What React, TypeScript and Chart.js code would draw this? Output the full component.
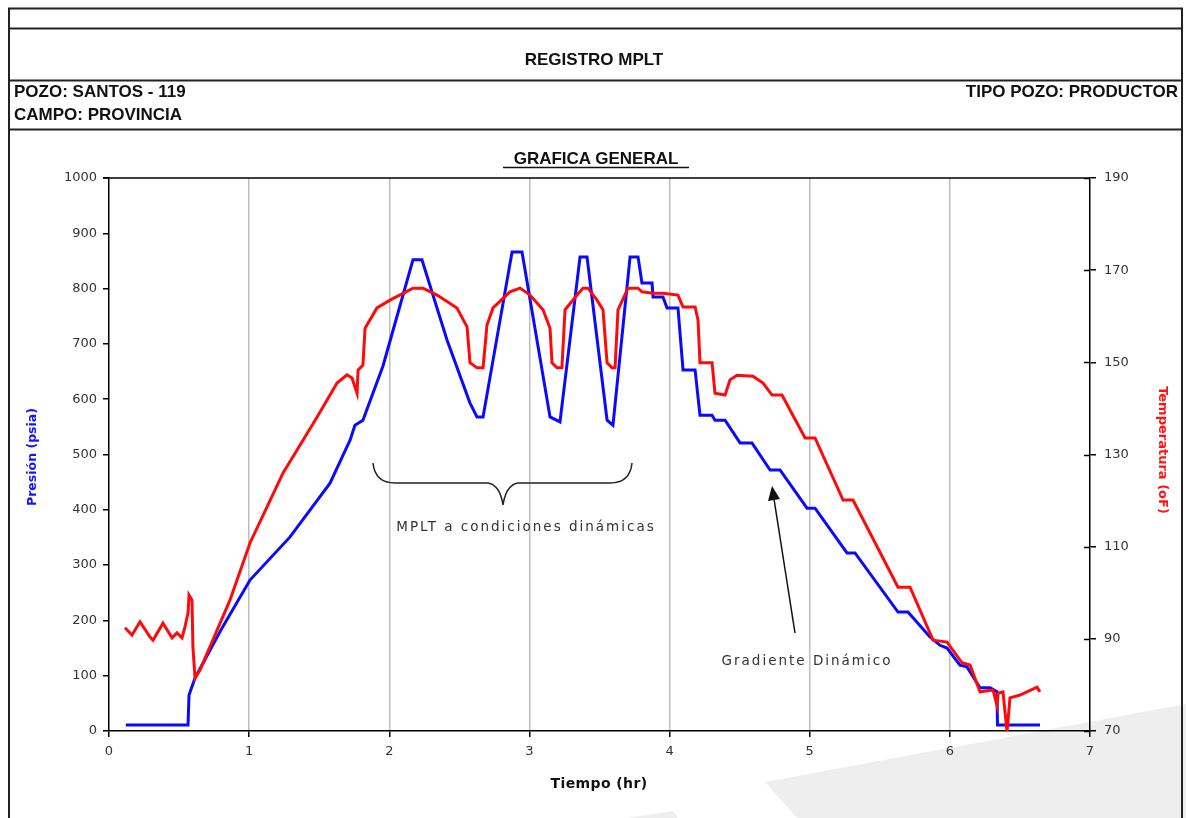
import React, { useEffect, useRef } from "react";
import { Chart, registerables } from "chart.js";

Chart.register(...registerables);

const W = 1186;
const H = 818;

// Pressure series (psia) vs time (hr)
const presionTiempo = [
  0.12, 0.564, 0.571, 0.614, 0.806, 1.006, 1.292, 1.577, 1.72, 1.755, 1.812, 1.955,
  2.169, 2.233, 2.412, 2.576, 2.626, 2.669, 2.876, 2.947, 3.147, 3.218, 3.361, 3.411,
  3.554, 3.596, 3.718, 3.775, 3.803, 3.875, 3.882, 3.953, 3.982, 4.06, 4.096, 4.182,
  4.217, 4.303, 4.324, 4.396, 4.503, 4.588, 4.717, 4.788, 4.981, 5.038, 5.266, 5.323,
  5.63, 5.701, 5.858, 5.93, 5.98, 6.072, 6.122, 6.215, 6.287, 6.336, 6.34, 6.643,
];
const presion = [
  11, 11, 65, 96, 186, 273, 351, 448, 526, 553, 562, 660,
  852, 852, 707, 593, 568, 568, 866, 866, 568, 559, 857, 857,
  562, 553, 857, 857, 810, 810, 785, 785, 765, 765, 653, 653,
  571, 571, 562, 562, 521, 521, 472, 472, 403, 403, 322, 322,
  215, 215, 170, 155, 150, 119, 116, 78, 78, 71, 11, 11,
];

// Temperature series (oF) vs time (hr)
const temperaturaTiempo = [
  0.114, 0.164, 0.221, 0.293, 0.314, 0.385, 0.45, 0.485, 0.521, 0.542, 0.564, 0.571,
  0.592, 0.599, 0.614, 0.649, 0.863, 1.006, 1.127, 1.242, 1.484, 1.627, 1.698, 1.734,
  1.77, 1.777, 1.812, 1.827, 1.912, 2.005, 2.169, 2.241, 2.341, 2.483, 2.555, 2.576,
  2.626, 2.669, 2.697, 2.74, 2.861, 2.933, 3.004, 3.097, 3.147, 3.161, 3.197, 3.232,
  3.254, 3.34, 3.382, 3.418, 3.482, 3.525, 3.554, 3.589, 3.611, 3.632, 3.703, 3.775,
  3.803, 3.882, 3.953, 4.06, 4.096, 4.182, 4.203, 4.217, 4.303, 4.324, 4.396, 4.431,
  4.481, 4.595, 4.667, 4.731, 4.802, 4.967, 5.038, 5.238, 5.309, 5.63, 5.716, 5.88,
  5.98, 6.087, 6.144, 6.215, 6.308, 6.336, 6.344, 6.379, 6.408, 6.429, 6.501, 6.622,
  6.643,
];
const temperatura = [
  92.4, 90.8, 93.7, 90.4, 89.7, 93.4, 90.2, 91.3, 90.2, 92.6, 95.6, 99.5,
  98.4, 88.2, 81.5, 83.2, 98.4, 110.8, 118.6, 126.0, 138.1, 145.5, 147.3, 146.6,
  143.3, 148.3, 149.4, 157.4, 161.8, 163.5, 166.1, 166.1, 164.6, 161.8, 157.7, 149.9,
  148.8, 148.8, 158.1, 161.8, 165.3, 166.1, 164.6, 161.4, 157.4, 149.9, 148.8, 148.8,
  161.4, 164.6, 166.1, 166.1, 163.5, 161.4, 149.9, 148.8, 148.8, 161.4, 166.1, 166.1,
  165.3, 165.0, 165.0, 164.6, 162.0, 162.0, 159.2, 149.9, 149.9, 143.3, 142.9, 146.2,
  147.2, 147.0, 145.5, 142.9, 142.9, 133.6, 133.6, 120.1, 120.1, 101.2, 101.2, 89.7,
  89.3, 84.8, 84.3, 78.5, 78.9, 75.6, 78.2, 78.5, 69.8, 77.2, 77.8, 79.5,
  78.5,
];

const tiempoTicks = [0, 1, 2, 3, 4, 5, 6, 7];
const presionTicks = [0, 100, 200, 300, 400, 500, 600, 700, 800, 900, 1000];
const temperaturaTicks = [70, 90, 110, 130, 150, 170, 190];

const TICK_FONT = "'DejaVu Sans', sans-serif";
const plain = (v: any) => String(v);

const framePlugin = {
  id: "framePlugin",
  afterDraw(chart: any) {
    const { ctx, chartArea: a, scales } = chart;
    ctx.save();
    ctx.strokeStyle = "#000";
    ctx.lineWidth = 1.5;
    ctx.beginPath();
    ctx.moveTo(a.left - 6, a.top);
    ctx.lineTo(a.right, a.top);
    const y2 = scales.y2;
    y2.ticks.forEach((t: any) => {
      const p = Math.round(y2.getPixelForValue(t.value)) + 0.5;
      ctx.moveTo(a.right - 6, p);
      ctx.lineTo(a.right, p);
    });
    ctx.stroke();
    ctx.restore();
  },
};

export default function App() {
  const ref = useRef<HTMLCanvasElement>(null);

  useEffect(() => {
    const red = temperaturaTiempo.map((t, i) => ({ x: t, y: temperatura[i] }));
    const blue = presionTiempo.map((t, i) => ({ x: t, y: presion[i] }));
    const chart = new Chart(ref.current as HTMLCanvasElement, {
      type: "line",
      data: {
        datasets: [
          {
            label: "Temperatura (oF)",
            data: red,
            yAxisID: "y2",
            borderColor: "#ff0a0a",
            borderWidth: 3,
            pointRadius: 0,
            tension: 0,
          },
          {
            label: "Presión (psia)",
            data: blue,
            yAxisID: "y",
            borderColor: "#0a0aff",
            borderWidth: 3,
            pointRadius: 0,
            tension: 0,
          },
        ],
      },
      options: {
        responsive: false,
        maintainAspectRatio: false,
        devicePixelRatio: 1,
        animation: false,
        events: [],
        layout: { padding: { top: 178, left: 0, right: 0, bottom: 0 } },
        plugins: {
          legend: { display: false },
          tooltip: { enabled: false },
          title: { display: false },
        },
        scales: {
          x: {
            type: "linear",
            position: "bottom",
            min: 0,
            max: 7,
            afterBuildTicks: (s: any) => {
              s.ticks = tiempoTicks.map((v) => ({ value: v }));
            },
            afterFit: (s: any) => {
              s.height = H - 731;
            },
            ticks: {
              color: "#333",
              font: { family: TICK_FONT, size: 13 },
              padding: 7,
              maxRotation: 0,
              callback: plain,
            },
            grid: {
              color: (c: any) =>
                c.tick && (c.tick.value === 0 || c.tick.value === 7) ? "rgba(0,0,0,0)" : "#bdbdbd",
              tickColor: "#000",
              tickLength: 6,
              lineWidth: 1.5,
            },
            border: { color: "#000", width: 1.5 },
          },
          y: {
            type: "linear",
            position: "left",
            min: 0,
            max: 1000,
            afterBuildTicks: (s: any) => {
              s.ticks = presionTicks.map((v) => ({ value: v }));
            },
            afterFit: (s: any) => {
              s.width = 109;
            },
            ticks: {
              color: "#333",
              font: { family: TICK_FONT, size: 13 },
              padding: 6,
              callback: plain,
            },
            grid: {
              drawOnChartArea: false,
              tickColor: "#000",
              tickLength: 6,
              lineWidth: 1.5,
            },
            border: { color: "#000", width: 1.5 },
          },
          y2: {
            type: "linear",
            position: "right",
            min: 70,
            max: 190,
            afterBuildTicks: (s: any) => {
              s.ticks = temperaturaTicks.map((v) => ({ value: v }));
            },
            afterFit: (s: any) => {
              s.width = W - 1090;
            },
            ticks: {
              color: "#333",
              font: { family: TICK_FONT, size: 13 },
              padding: 8,
              callback: plain,
            },
            grid: {
              drawOnChartArea: false,
              tickColor: "#000",
              tickLength: 6,
              lineWidth: 1.5,
            },
            border: { color: "#000", width: 1.5 },
          },
        },
      },
      plugins: [framePlugin],
    } as any);
    return () => chart.destroy();
  }, []);

  const head = "'Liberation Sans', Arial, sans-serif";
  const body = "'DejaVu Sans', sans-serif";

  return (
    <div
      style={{
        position: "absolute",
        left: 0,
        top: 0,
        width: W,
        height: H,
        background: "#fff",
        overflow: "hidden",
      }}
    >
      <svg width={W} height={H} style={{ position: "absolute", left: 0, top: 0 }}>
        <polygon points="765,782 1186,704 1186,818 797,818" fill="#eeeeee" />
        <polygon points="627,818 673,811 678,818" fill="#eeeeee" />
      </svg>
      <canvas
        ref={ref}
        width={W}
        height={H}
        style={{ position: "absolute", left: 0, top: 0, width: W, height: H }}
      />
      <svg
        width={W}
        height={H}
        style={{ position: "absolute", left: 0, top: 0, pointerEvents: "none" }}
      >
        <g stroke="#222" strokeWidth={2}>
          <line x1={8} y1={8.5} x2={1183} y2={8.5} />
          <line x1={8} y1={28.5} x2={1183} y2={28.5} />
          <line x1={8} y1={80.5} x2={1183} y2={80.5} />
          <line x1={8} y1={129.5} x2={1183} y2={129.5} />
          <line x1={9} y1={8} x2={9} y2={H} />
          <line x1={1182} y1={8} x2={1182} y2={H} />
        </g>
        <g fontFamily={head} fontWeight="bold" fontSize={17} fill="#111">
          <text x={594} y={59} textAnchor="middle" dominantBaseline="central">
            REGISTRO MPLT
          </text>
          <text x={14} y={91} dominantBaseline="central">
            POZO: SANTOS - 119
          </text>
          <text x={14} y={114} dominantBaseline="central">
            CAMPO: PROVINCIA
          </text>
          <text x={1178} y={91} textAnchor="end" dominantBaseline="central">
            TIPO POZO: PRODUCTOR
          </text>
          <text x={596} y={158} textAnchor="middle" dominantBaseline="central">
            GRAFICA GENERAL
          </text>
        </g>
        <line x1={503} y1={167.5} x2={689} y2={167.5} stroke="#111" strokeWidth={1.5} />

        <text
          transform="translate(31,457) rotate(-90)"
          textAnchor="middle"
          dominantBaseline="central"
          fontFamily={body}
          fontWeight="bold"
          fontSize={12.5}
          fill="#1414ff"
        >
          Presión (psia)
        </text>
        <text
          transform="translate(1163,450) rotate(90)"
          textAnchor="middle"
          dominantBaseline="central"
          fontFamily={body}
          fontWeight="bold"
          fontSize={13}
          fill="#ff1414"
        >
          Temperatura (oF)
        </text>
        <text
          x={599}
          y={783}
          textAnchor="middle"
          dominantBaseline="central"
          fontFamily={body}
          fontWeight="bold"
          fontSize={14}
          fill="#111"
          style={{ letterSpacing: "0.4px" }}
        >
          Tiempo (hr)
        </text>

        <path
          d="M373,463 Q375,483 395,483 L488,483 Q500,485 503,505 Q506,485 518,483 L610,483 Q630,483 632,463"
          fill="none"
          stroke="#222"
          strokeWidth={1.5}
        />
        <text
          x={526}
          y={526}
          textAnchor="middle"
          dominantBaseline="central"
          fontFamily={body}
          fontSize={13.5}
          fill="#333"
          style={{ letterSpacing: "2px" }}
        >
          MPLT a condiciones dinámicas
        </text>

        <line x1={795} y1={633} x2={774} y2={499} stroke="#111" strokeWidth={1.5} />
        <polygon points="772,486 780,499 768,501" fill="#111" />
        <text
          x={807}
          y={660}
          textAnchor="middle"
          dominantBaseline="central"
          fontFamily={body}
          fontSize={13.5}
          fill="#333"
          style={{ letterSpacing: "2px" }}
        >
          Gradiente Dinámico
        </text>
      </svg>
    </div>
  );
}
